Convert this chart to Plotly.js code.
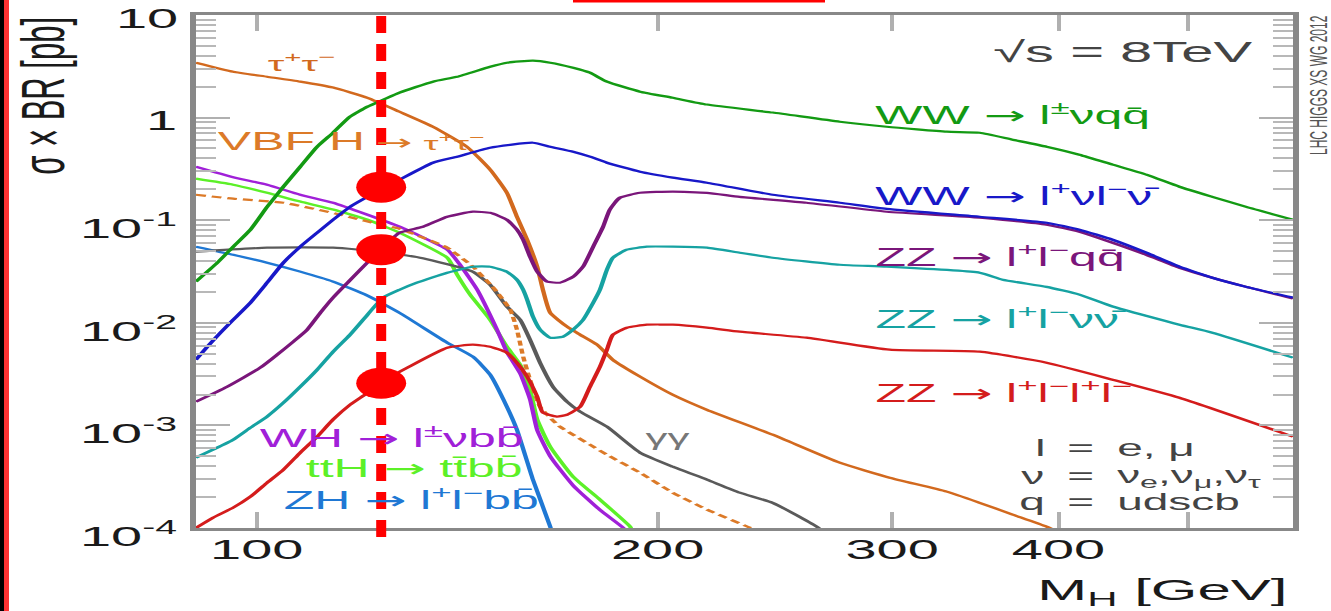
<!DOCTYPE html>
<html>
<head>
<meta charset="utf-8">
<script src="https://cdn.plot.ly/plotly-3.0.1.min.js"></script>
<style>
  html, body { margin: 0; padding: 0; background: #ffffff; overflow: hidden; }
  /* the figure is laid out at half width and stretched horizontally */
  #stage { width: 666px; height: 611px; transform: scaleX(1.998498); transform-origin: 0 0; }
</style>
</head>
<body>
<div id="stage"></div>
<script>
// Higgs boson mass M_H [GeV] and sigma x BR [pb] for each search channel, sqrt(s) = 8 TeV

// gg -> H -> tau+ tau-
const tauMass = [90, 96, 101.8, 107.8, 114.1, 121.1, 128, 135.6, 143.8, 149.7, 154.1, 156.8, 159.6, 162.4, 164, 166.1, 171, 174.9, 180.1, 185.1, 194, 205.3, 217.8, 244, 274, 298.7, 329.7, 349, 369.5, 391.8, 401];
const tauXsec = [3.43, 2.80, 2.50, 2.24, 1.96, 1.56, 1.14, 0.815, 0.52, 0.311, 0.185, 0.108, 0.0645, 0.0352, 0.021, 0.0125, 0.00916, 0.00766, 0.00612, 0.00436, 0.00299, 0.00199, 0.00142, 0.000811, 0.000433, 0.000309, 0.000226, 0.000176, 0.000135, 0.000103, 0.00009];

// VBF H -> tau+ tau-
const vbfMass = [90, 96, 104.7, 115.6, 123.8, 128, 133.3, 139, 145.3, 151, 155, 156.8, 158.5, 160.4, 163.2, 168.9, 172.8, 177.9, 183.2, 194, 205.3, 217.8, 234.5, 238.8];
const vbfXsec = [0.177, 0.162, 0.148, 0.113, 0.0904, 0.0826, 0.0675, 0.054, 0.0352, 0.021, 0.0134, 0.00857, 0.00467, 0.00279, 0.00152, 0.000971, 0.000811, 0.000649, 0.000518, 0.000346, 0.000221, 0.000151, 0.000101, 0.00009];

// WW -> l nu q q
const wwqqMass = [90, 93.4, 96, 98.9, 101.8, 104.7, 107.8, 111, 114.1, 117.5, 121.1, 124.4, 128, 135.6, 141.4, 149.7, 154.1, 161.2, 166.1, 172.8, 177.9, 183.2, 194, 205.3, 217.8, 244, 274, 297.2, 329.7, 349, 369.5, 391.8, 414.7, 439.2, 465.6, 493, 521.9, 553.4, 600];
const wwqqXsec = [0.0252, 0.0385, 0.0552, 0.0808, 0.135, 0.212, 0.332, 0.52, 0.713, 1.02, 1.28, 1.49, 1.75, 2.24, 2.50, 3.13, 3.43, 3.59, 3.43, 3.06, 2.74, 2.24, 1.79, 1.56, 1.34, 1.12, 0.912, 0.815, 0.729, 0.712, 0.609, 0.52, 0.435, 0.348, 0.278, 0.212, 0.169, 0.135, 0.101];

// WW -> l nu l nu
const wwllMass = [90, 91.8, 93.9, 96, 98.9, 101.8, 104.7, 107.8, 111, 114.1, 117.5, 121.1, 128, 135.6, 141.4, 149.7, 161.2, 166.1, 172.8, 177.9, 183.2, 194, 205.3, 217.8, 244, 274, 297.2, 349, 391.8, 414.7, 439.2, 465.6, 493, 521.9, 553.4, 600];
const wwllXsec = [0.00436, 0.00585, 0.0080, 0.0107, 0.0157, 0.0246, 0.0385, 0.0552, 0.0755, 0.101, 0.135, 0.169, 0.248, 0.363, 0.416, 0.509, 0.569, 0.52, 0.465, 0.416, 0.363, 0.297, 0.260, 0.232, 0.177, 0.148, 0.129, 0.108, 0.0945, 0.0808, 0.0645, 0.0482, 0.0352, 0.0275, 0.0224, 0.0176];

// ZZ -> l l q q
const zzqqMass = [90, 95, 100.6, 103.6, 106.5, 109.1, 111.6, 114.1, 117, 123.8, 128, 133.3, 139, 145.3, 149.7, 154.1, 156.8, 158.5, 160.4, 162.4, 165.2, 168.9, 172.8, 175.8, 178.9, 182, 184.1, 187.4, 194, 205.3, 217.8, 230.5, 258.7, 297.2, 349, 391.8, 414.7, 439.2, 465.6, 493, 521.9, 553.4, 600];
const zzqqXsec = [0.0017, 0.00238, 0.00365, 0.00489, 0.00654, 0.00857, 0.0125, 0.0176, 0.0246, 0.0516, 0.0755, 0.0864, 0.108, 0.121, 0.118, 0.101, 0.0808, 0.0645, 0.044, 0.0315, 0.0252, 0.0246, 0.0281, 0.0352, 0.0552, 0.0864, 0.1265, 0.166, 0.185, 0.190, 0.185, 0.169, 0.148, 0.121, 0.106, 0.0904, 0.0772, 0.0603, 0.046, 0.0344, 0.0275, 0.0224, 0.0172];

// ZZ -> l l nu nu
const zzvvMass = [90, 92.7, 96, 98.9, 101.8, 104.7, 107.8, 111, 114.1, 117.5, 121.1, 124.4, 128, 131.9, 139, 145.3, 149.7, 154.1, 156.8, 158.5, 159.6, 161.2, 163.2, 166.1, 169.8, 172.8, 175.8, 178.9, 181, 183.2, 185.1, 189.6, 196.3, 205.3, 217.8, 230.5, 244, 274, 297.2, 349, 363.2, 391.8, 414.7, 439.2, 493, 521.9, 600];
const zzvvXsec = [0.000484, 0.00058, 0.000726, 0.00095, 0.00122, 0.00166, 0.00238, 0.00349, 0.00523, 0.00766, 0.012, 0.0176, 0.021, 0.0246, 0.0308, 0.0352, 0.0352, 0.0315, 0.0263, 0.021, 0.0168, 0.0115, 0.00857, 0.00716, 0.00732, 0.00857, 0.0107, 0.0157, 0.021, 0.0329, 0.0431, 0.0516, 0.0552, 0.0552, 0.054, 0.0482, 0.0431, 0.0368, 0.0352, 0.0308, 0.0263, 0.0224, 0.0188, 0.0144, 0.00958, 0.0080, 0.00457];

// ZZ -> l l l l
const zz4lMass = [90, 92.7, 96, 98.9, 101.8, 104.7, 107.8, 111, 114.1, 117.5, 121.1, 123.8, 129.7, 139, 145.3, 149.7, 154.1, 156.8, 159.6, 162.4, 164, 168, 171, 174.9, 177.9, 181, 183.2, 185.1, 189.6, 196.3, 205.3, 217.8, 230.5, 258.7, 298.7, 349, 391.8, 439.2, 493, 600];
const zz4lXsec = [0.0001, 0.000126, 0.000158, 0.000202, 0.000276, 0.00037, 0.000542, 0.000776, 0.00114, 0.00159, 0.00208, 0.00261, 0.00365, 0.00572, 0.00612, 0.00585, 0.00511, 0.00408, 0.00298, 0.0019, 0.00133, 0.00122, 0.00127, 0.00152, 0.00238, 0.00373, 0.00547, 0.00766, 0.00896, 0.00958, 0.00958, 0.00896, 0.00819, 0.00716, 0.00547, 0.00523, 0.00408, 0.00279, 0.00186, 0.000776];

// H -> gamma gamma
const ggMass = [90, 101.8, 114.1, 123.8, 132.6, 141.4, 145.3, 149.7, 154.1, 157.7, 160.4, 163.2, 166.9, 171, 174.9, 183.2, 194, 205.3, 217.8, 230.5, 244, 263.3, 266.9];
const ggXsec = [0.0493, 0.054, 0.054, 0.0493, 0.0431, 0.0352, 0.0315, 0.0235, 0.0144, 0.0107, 0.00684, 0.00408, 0.00238, 0.0017, 0.00136, 0.000971, 0.000542, 0.000396, 0.000296, 0.000221, 0.000176, 0.000103, 0.00009];

// WH -> l nu b b
const whMass = [90, 96, 101.8, 107.8, 114.1, 121.1, 128, 139, 142.1, 146.4, 151.5, 154.1, 157.7, 160.4, 162.4, 166.1, 172.8, 181, 188.5, 189.5];
const whXsec = [0.332, 0.2625, 0.222, 0.177, 0.148, 0.113, 0.0864, 0.0516, 0.0368, 0.021, 0.00857, 0.0052, 0.0032, 0.0018, 0.0009, 0.0005, 0.00026, 0.00015, 0.0001, 0.00009];

// ttH -> tt b b
const tthMass = [90, 96, 101.8, 107.8, 114.1, 121.1, 128, 139, 141.4, 144.6, 149.7, 154.1, 157.7, 160.4, 162.4, 166.1, 172.8, 181, 190.7, 191.6];
const tthXsec = [0.254, 0.222, 0.185, 0.152, 0.127, 0.101, 0.0755, 0.0431, 0.0294, 0.0188, 0.0107, 0.00585, 0.0039, 0.00223, 0.00114, 0.000619, 0.000316, 0.000189, 0.000103, 0.00009];

// ZH -> l l b b
const zhMass = [90, 96, 101.8, 107.8, 114.1, 121.1, 128, 139, 145.3, 149.7, 154.1, 156.8, 161.2, 166.1, 166.6];
const zhXsec = [0.0552, 0.046, 0.0385, 0.0315, 0.0252, 0.0184, 0.0125, 0.0064, 0.00467, 0.00312, 0.00152, 0.000908, 0.000296, 0.000103, 0.00009];

// highlighted mass and the three marked channel values there
const markMass = 124;
const markXsec = [0.21, 0.0516, 0.00258];

// axis ticks
const xRange = [90, 600];
const xTickVals = [100, 200, 300, 400, 500];
const xTickText = ['100', '200', '300', '400', ''];
const yRange = [-4, 1];   // log10 of the axis limits
const yTickVals = [1e-4, 1e-3, 1e-2, 1e-1, 1, 10];
const yTickText = ['10<sup>-4</sup>', '10<sup>-3</sup>', '10<sup>-2</sup>', '10<sup>-1</sup>', '1', '10'];
const yMinorVals = [];
for (let e = -4; e < 1; e++) {
  for (let d = 2; d <= 9; d++) yMinorVals.push(d * Math.pow(10, e));
}

// ---- styling ----
const FONT = 'Liberation Sans, Arial, sans-serif';
const C = {
  tau: '#d2691e', vbf: '#dc7a28', wwqq: '#139a13', wwll: '#1818c8',
  zzqq: '#7a167a', zzvv: '#16a2a2', zz4l: '#d41c1c', gg: '#5a5a5a',
  wh: '#a020d8', tth: '#5cf028', zh: '#1f78d4', mark: '#ff0000'
};

function curve(x, y, color, dash) {
  return {
    type: 'scatter', mode: 'lines', x: x, y: y, hoverinfo: 'skip',
    line: { color: color, width: 2.2, shape: 'spline', smoothing: 0.5, dash: dash || 'solid' }
  };
}

const traces = [
  curve(zhMass, zhXsec, C.zh),
  curve(tthMass, tthXsec, C.tth),
  curve(whMass, whXsec, C.wh),
  curve(ggMass, ggXsec, C.gg),
  curve(vbfMass, vbfXsec, C.vbf, '5px,3px'),
  curve(tauMass, tauXsec, C.tau),
  curve(zz4lMass, zz4lXsec, C.zz4l),
  curve(zzvvMass, zzvvXsec, C.zzvv),
  curve(zzqqMass, zzqqXsec, C.zzqq),
  curve(wwllMass, wwllXsec, C.wwll),
  curve(wwqqMass, wwqqXsec, C.wwqq)
];

// page geometry: plot area 549 x 513 px, drawn at half width then stretched
const W = 666, H = 611, ML = 98, MR = 19, MT = 15, MB = 83;
const PW = W - ML - MR, PH = H - MT - MB;
const SX = 1331 / W;
const px = xs => (xs / SX - ML) / PW;   // page x (stretched) -> paper x
const py = ys => (H - MB - ys) / PH;    // page y -> paper y

function label(text, xs, ys, color, size, anchor, extra) {
  return Object.assign({
    text: text, xref: 'paper', yref: 'paper', x: px(xs), y: py(ys),
    xanchor: anchor || 'left', yanchor: 'middle', showarrow: false,
    font: { family: FONT, size: size, color: color }
  }, extra || {});
}

const GREY = '#444444';
const ARW = '<span style="font-family:DejaVu Sans">→</span>';
const annotations = [
  label('τ<sup>+</sup>τ<sup>−</sup>', 302, 62, C.tau, 21, 'center'),
  label('VBF H<span style="font-size:20px"> </span><span style="font-family:DejaVu Sans;font-size:22px">→</span><span style="font-size:19px"> τ<sup>+</sup>τ<sup>−</sup></span>', 213, 141, C.vbf, 25),
  label('WW ' + ARW + ' l<sup>±</sup>νqq̄', 872, 114, C.wwqq, 25),
  label('WW ' + ARW + ' l<sup>+</sup>νl<sup>−</sup>ν̄', 872, 195, C.wwll, 25),
  label('ZZ ' + ARW + ' l<sup>+</sup>l<sup>−</sup>qq̄', 872, 256, C.zzqq, 25),
  label('ZZ ' + ARW + ' l<sup>+</sup>l<sup>−</sup>νν̄', 872, 318, C.zzvv, 25),
  label('ZZ ' + ARW + ' l<sup>+</sup>l<sup>−</sup>l<sup>+</sup>l<sup>−</sup>', 872, 392, C.zz4l, 25),
  label('WH ' + ARW + ' l<sup>±</sup>νbb̄', 255, 437, C.wh, 25),
  label('ttH ' + ARW + ' tt̄bb̄', 302, 468, C.tth, 25),
  label('ZH ' + ARW + ' l<sup>+</sup>l<sup>−</sup>bb̄', 280, 499, C.zh, 25),
  label('γγ', 667, 437, '#777777', 22, 'center'),
  label('√s = 8TeV', 1258, 52, GREY, 29, 'right'),
  label('l', 1050, 448, GREY, 23, 'right'),
  label('=', 1080, 448, GREY, 23, 'center'),
  label('e, μ', 1113, 448, GREY, 23),
  label('ν', 1050, 476, GREY, 23, 'right'),
  label('=', 1080, 476, GREY, 23, 'center'),
  label('ν<sub>e</sub>,ν<sub>μ</sub>,ν<sub>τ</sub>', 1113, 476, GREY, 23),
  label('q', 1050, 502, GREY, 23, 'right'),
  label('=', 1080, 502, GREY, 23, 'center'),
  label('udscb', 1113, 502, GREY, 23),
  label('LHC HIGGS XS WG 2012', 1319, 85, '#555555', 12, 'center', { textangle: -90 }),
  label('σ × BR [pb]', 43, 15.3, '#1a1a1a', 31, 'center', { textangle: -90, yanchor: 'top' }),
  label('M<sub>H</sub> [GeV]', 1292, 591, '#1a1a1a', 30, 'right')
];

// y tick labels, set right-aligned against the left axis at each decade
yTickVals.forEach((v, i) => {
  annotations.push({
    text: yTickText[i], xref: 'paper', yref: 'paper',
    x: px(182), y: (Math.log10(v) - yRange[0]) / (yRange[1] - yRange[0]),
    xanchor: 'right', yanchor: 'middle', showarrow: false,
    yshift: yTickText[i].indexOf('sup') >= 0 ? -6 : -3,
    font: { family: FONT, size: 28, color: '#1a1a1a' }
  });
});

const shapes = [
  // vertical marker at the highlighted mass
  { type: 'line', xref: 'x', yref: 'paper', x0: markMass, x1: markMass,
    y0: py(537), y1: 1, line: { color: C.mark, width: 5, dash: '17px,11px' }, layer: 'above' },
  // left page border and top rule
  { type: 'rect', xref: 'paper', yref: 'paper', x0: px(0), x1: px(4), y0: py(620), y1: py(-10),
    fillcolor: '#000000', line: { width: 0 } },
  { type: 'rect', xref: 'paper', yref: 'paper', x0: px(4), x1: px(9), y0: py(620), y1: py(-10),
    fillcolor: '#ff3333', line: { width: 0 } },
  { type: 'rect', xref: 'paper', yref: 'paper', x0: px(573), x1: px(825), y0: py(2.5), y1: py(-5),
    fillcolor: '#ff0000', line: { width: 0 } }
];

// filled markers at the highlighted mass: 25 x 31 px ellipses before stretching
const dotHalfW = 12.5, dotHalfH = 15.5;
const kx = Math.pow(10, dotHalfW * Math.log10(xRange[1] / xRange[0]) / PW);
const ky = Math.pow(10, dotHalfH * (yRange[1] - yRange[0]) / PH);
markXsec.forEach(v => shapes.push({
  type: 'circle', xref: 'x', yref: 'y',
  x0: markMass / kx, x1: markMass * kx, y0: v / ky, y1: v * ky,
  fillcolor: C.mark, line: { width: 0 }, layer: 'above'
}));

const axisLine = { showline: true, linecolor: '#888888', linewidth: 3, mirror: 'ticks',
  showgrid: false, zeroline: false, ticks: 'inside', tickcolor: '#b0b0b0', tickwidth: 2 };

const layout = {
  width: W, height: H,
  margin: { l: ML, r: MR, t: MT, b: MB, pad: 0 },
  paper_bgcolor: '#ffffff', plot_bgcolor: '#ffffff',
  showlegend: false,
  font: { family: FONT, color: '#1a1a1a' },
  xaxis: Object.assign({}, axisLine, {
    type: 'log', range: [Math.log10(xRange[0]), Math.log10(xRange[1])],
    tickmode: 'array', tickvals: xTickVals, ticktext: xTickText, ticklen: 16,
    ticklabelstandoff: -6,
    tickfont: { family: FONT, size: 28, color: '#1a1a1a' }
  }),
  yaxis: Object.assign({}, axisLine, {
    type: 'log', range: yRange,
    tickmode: 'array', tickvals: yTickVals, ticklen: 17, showticklabels: false,
    minor: { tickmode: 'array', tickvals: yMinorVals, ticks: 'inside', ticklen: 10,
             tickwidth: 2, tickcolor: '#b8b8b8', showgrid: false }
  }),
  annotations: annotations,
  shapes: shapes
};

Plotly.newPlot('stage', traces, layout, { staticPlot: true, displayModeBar: false });
</script>
</body>
</html>
